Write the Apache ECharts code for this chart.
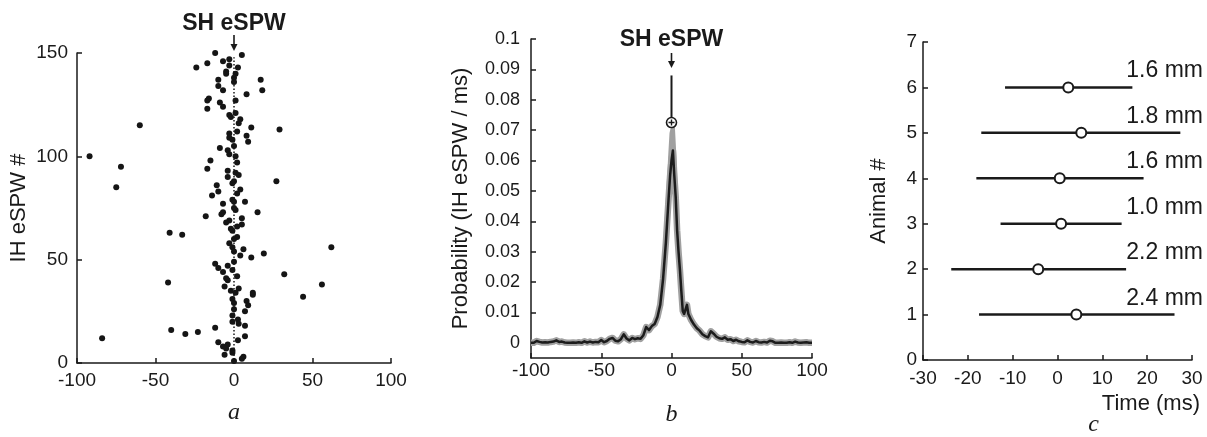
<!DOCTYPE html>
<html>
<head>
<meta charset="utf-8">
<title>SH eSPW / IH eSPW</title>
<script src="https://cdn.jsdelivr.net/npm/echarts@6/dist/echarts.min.js"></script>
<style>
  html, body { margin: 0; padding: 0; background: #fff; }
  #main { width: 1207px; height: 437px; }
</style>
</head>
<body>
<div id="main"></div>
<script type="text/javascript">
// panel a: IH eSPW times relative to SH eSPW (ms) and event index
var rasterTime = [-12, 5, -3, -17, -7, -3, 2.5, -24, -5, -5, 1, 0, 17, -10, 0, -10, -7, 18, 8, -16,
    -17, 1, -9, -7, -17, 1, -3, -2, 4, 3, -60, 11, 29, 2, -3, -3, 8, 9, -1, 0,
    -9, -4, -3, -92, 1, 2, -15, -72, -17, -4, 1, 3, -4, 27, 0, -1, -11, -10, -75, 4,
    2, -14, -1, 0, 7, -7, 0, 1, -7, 15, -8, -18, 5, -3, -5, 5, 2, -2, -1, -41,
    -33, 2, 0, -3, -1, 62, 6, 0, 19, 4, 11, 0, -12, -4, -10, -1, -7, 32, 2, -5,
    -4, -42, 56, -6, 3, -2, 1, 12, 12, 44, -1, 0, 8, 9, 0, 7, -1, -1, 2.5, 3,
    7, -12, -40, -23, -31, 7, -84, 2.5, -10, -4, -7, -5, -1, -1, -6, 6, 5, 0];
var rasterIndex = [150, 149, 147, 145, 146, 144, 143, 143, 141, 140, 140, 138, 137, 137, 136, 134, 132, 132, 130, 128,
    127, 127, 126, 124, 123, 121, 120, 119, 118, 116, 115, 114, 113, 112, 111, 109, 110, 107, 108, 105,
    104, 103, 101, 100, 100, 97, 98, 95, 94, 93, 92, 91, 90, 88, 88, 87, 86, 83, 85, 84,
    82, 81, 79, 78, 78, 77, 75, 74, 73, 73, 72, 71, 70, 69, 68, 67, 66, 65, 64, 63,
    62, 61, 60, 58, 56, 56, 55, 54, 53, 52, 51, 49, 48, 47, 46, 45, 44, 43, 42, 41,
    40, 39, 38, 37, 36, 35, 34, 34, 33, 32, 31, 29, 30, 28, 26, 25, 23, 20, 21, 19,
    18, 17, 16, 15, 14, 13, 12, 11, 10, 9, 8, 7, 6, 5, 4, 3, 2, 1];

// panel b: probability of IH eSPW (per ms) around SH eSPW
var probTime = [-100, -98, -96, -94, -92, -90, -88, -86, -84, -82, -80, -78, -76, -74, -72, -70, -68, -66, -64, -62,
    -60, -58, -56, -54, -52, -50, -48, -46, -44, -42, -40, -38, -36, -34, -32, -30, -28, -26, -24, -22,
    -20, -18, -16, -14, -12, -10, -8, -6, -4, -2, -1, 0, 1, 2, 3, 4, 5, 6, 7, 8,
    9, 10, 11, 12, 14, 16, 18, 20, 22, 24, 26, 28, 30, 32, 34, 36, 38, 40, 42, 44,
    46, 48, 50, 52, 54, 56, 58, 60, 62, 64, 66, 68, 70, 72, 74, 76, 78, 80, 82, 84,
    86, 88, 90, 92, 94, 96, 98, 100];
var probMean = [0, 0, 0.0006, 0.0003, 0.0001, 0.0002, 0.0001, 0.0003, 0.0004, 0.0008, 0.0003, 0.0004, 0.0001, 0, 0, 0.0001, 0, 0.0002, 0, 0.0005,
    0.0001, 0.0004, 0.0001, 0.0003, 0.0002, 0.0009, 0.0002, 0.0006, 0.0013, 0.0016, 0.0007, 0.0005, 0.0012, 0.0028, 0.0014, 0.0008, 0.0016, 0.0012, 0.0015, 0.0013,
    0.0025, 0.0052, 0.0042, 0.0055, 0.0062, 0.0085, 0.0125, 0.021, 0.033, 0.048, 0.055, 0.06, 0.0633, 0.055, 0.048, 0.037, 0.030, 0.024, 0.017, 0.0105,
    0.0095, 0.011, 0.0125, 0.0095, 0.0075, 0.006, 0.0048, 0.004, 0.0028, 0.0022, 0.0018, 0.0038, 0.003, 0.002, 0.0015, 0.0013, 0.0018, 0.001, 0.0012, 0.0006,
    0.001, 0.0005, 0.0003, 0.0002, 0.0008, 0.0003, 0.0001, 0.0006, 0.0002, 0.0001, 0.0003, 0.0001, 0.0007, 0.0005, 0, 0, 0.0001, 0, 0, 0.0002,
    0, 0.0004, 0.0001, 0, 0.0001, 0.0002, 0, 0];
// upper edge of the grey band near the peak
var peakBandTime = [-4, -2, -1, 0, 1, 2, 3, 4];
var peakBandUpper = [0.036, 0.052, 0.061, 0.069, 0.071, 0.062, 0.05, 0.039];
var peakLatency = 0;
var peakProb = 0.0725;
var peakLineTop = 0.088;
var probTicks = [0, 0.01, 0.02, 0.03, 0.04, 0.05, 0.06, 0.07, 0.08, 0.09, 0.1];

// panel c: per animal latency (ms)
var animals = [1, 2, 3, 4, 5, 6];
var latMean = [4.2, -4.3, 0.8, 0.5, 5.3, 2.4];
var latLow = [-17.5, -23.7, -12.7, -18.1, -17.0, -11.7];
var latHigh = [26.1, 15.3, 14.3, 19.2, 27.4, 16.7];
var distLabels = ['2.4 mm', '2.2 mm', '1.0 mm', '1.6 mm', '1.8 mm', '1.6 mm'];

var ink = '#1a1a1a';
var font = 'Liberation Sans, Arial, sans-serif';

function zip(xs, ys) {
    var out = [];
    for (var i = 0; i < xs.length; i++) out.push([xs[i], ys[i]]);
    return out;
}

function xAx(grid, min, max, interval, fs, margin) {
    return {
        gridIndex: grid, type: 'value', min: min, max: max, interval: interval,
        axisLine: {onZero: false, lineStyle: {color: ink, width: 1.5}},
        axisTick: {inside: true, length: 5, lineStyle: {color: ink, width: 1.5}},
        axisLabel: {color: ink, fontSize: fs, fontFamily: font, margin: margin},
        splitLine: {show: false}
    };
}

function yAx(grid, min, max, interval, fs, margin, name, gap) {
    return {
        gridIndex: grid, type: 'value', min: min, max: max, interval: interval,
        name: name, nameLocation: 'middle', nameGap: gap,
        nameTextStyle: {color: ink, fontSize: 22, fontFamily: font},
        axisLine: {onZero: false, lineStyle: {color: ink, width: 1.5}},
        axisTick: {inside: true, length: 5, lineStyle: {color: ink, width: 1.5}},
        axisLabel: {color: ink, fontSize: fs, fontFamily: font, margin: margin},
        splitLine: {show: false}
    };
}

var chart = echarts.init(document.getElementById('main'));

var yProb = yAx(1, -0.005, 0.1, null, 18, 11, 'Probability (IH eSPW / ms)', 59);
delete yProb.interval;
yProb.axisTick.customValues = probTicks;
yProb.axisLabel.customValues = probTicks;
yProb.axisLabel.formatter = function (v) { return String(+v.toFixed(2)); };

var option = {
    animation: false,
    backgroundColor: '#fff',
    grid: [
        {left: 77, right: 816, top: 53, bottom: 74},
        {left: 531, right: 395, top: 39, bottom: 79},
        {left: 923, right: 15, top: 42, bottom: 77}
    ],
    xAxis: [
        xAx(0, -100, 100, 50, 19, 8),
        xAx(1, -100, 100, 50, 19, 3),
        xAx(2, -30, 30, 10, 19, 9)
    ],
    yAxis: [
        yAx(0, 0, 150, 50, 19, 9, 'IH eSPW #', 47),
        yProb,
        yAx(2, 0, 7, 1, 19, 6, 'Animal #', 33)
    ],
    series: [
        {   // dotted reference line at 0
            type: 'line', xAxisIndex: 0, yAxisIndex: 0, symbol: 'none',
            data: [[0, 0], [0, 148]],
            lineStyle: {color: ink, width: 1.5, type: [1.5, 2]}
        },
        {
            type: 'scatter', xAxisIndex: 0, yAxisIndex: 0, symbolSize: 6,
            itemStyle: {color: '#151515', opacity: 1},
            data: zip(rasterTime, rasterIndex)
        },
        {   // grey SEM band
            type: 'line', xAxisIndex: 1, yAxisIndex: 1, symbol: 'none',
            data: zip(probTime, probMean),
            lineStyle: {color: '#a0a0a0', width: 6.5, join: 'round'}
        },
        {
            type: 'line', xAxisIndex: 1, yAxisIndex: 1, symbol: 'none',
            data: zip(peakBandTime, peakBandUpper),
            lineStyle: {color: '#a0a0a0', width: 4}
        },
        {
            type: 'line', xAxisIndex: 1, yAxisIndex: 1, symbol: 'none',
            data: zip(probTime, probMean),
            lineStyle: {color: '#1c1c1c', width: 2.5, join: 'round'}
        },
        {
            type: 'line', xAxisIndex: 1, yAxisIndex: 1, symbol: 'none',
            data: [[peakLatency, peakProb + 0.0012], [peakLatency, peakLineTop]],
            lineStyle: {color: ink, width: 2}
        },
        {
            type: 'scatter', xAxisIndex: 1, yAxisIndex: 1, symbol: 'circle', symbolSize: 10,
            itemStyle: {color: '#fff', borderColor: ink, borderWidth: 1.6, opacity: 1},
            data: [[peakLatency, peakProb]], z: 5
        },
        {
            type: 'scatter', xAxisIndex: 1, yAxisIndex: 1, symbol: 'path://M5,0L5,10M0,5L10,5', symbolSize: 6,
            itemStyle: {color: 'transparent', borderColor: ink, borderWidth: 1.4, opacity: 1},
            data: [[peakLatency, peakProb]], z: 6
        },
        {   // latency ranges
            type: 'custom', xAxisIndex: 2, yAxisIndex: 2,
            data: animals.map(function (a, i) { return [latLow[i], latHigh[i], a]; }),
            renderItem: function (params, api) {
                var p0 = api.coord([api.value(0), api.value(2)]);
                var p1 = api.coord([api.value(1), api.value(2)]);
                return {
                    type: 'line',
                    shape: {x1: p0[0], y1: p0[1], x2: p1[0], y2: p1[1]},
                    style: {stroke: ink, lineWidth: 2.5}
                };
            }
        },
        {
            type: 'scatter', xAxisIndex: 2, yAxisIndex: 2, symbol: 'circle', symbolSize: 10,
            itemStyle: {color: '#fff', borderColor: ink, borderWidth: 2, opacity: 1},
            data: zip(latMean, animals), z: 5
        },
        {   // distance labels
            type: 'scatter', xAxisIndex: 2, yAxisIndex: 2, symbolSize: 0, clip: false,
            itemStyle: {opacity: 1},
            data: animals.map(function (a, i) { return {value: [30, a + 0.36], name: distLabels[i]}; }),
            label: {
                show: true, position: 'left', distance: 0, offset: [11, 0],
                formatter: '{b}', color: ink, fontSize: 23, fontFamily: font
            }
        }
    ]
};
chart.setOption(option);

// annotations placed from axis positions
function arrow(x, y0, y1) {
    return {
        type: 'group',
        children: [
            {type: 'line', shape: {x1: x, y1: y0, x2: x, y2: y1 - 5}, style: {stroke: ink, lineWidth: 1.6}},
            {type: 'polygon', shape: {points: [[x - 3.5, y1 - 7], [x + 3.5, y1 - 7], [x, y1]]}, style: {fill: ink}}
        ]
    };
}

var aTop = chart.convertToPixel({gridIndex: 0}, [0, 150]);
var bTop = chart.convertToPixel({gridIndex: 1}, [0, 0.1]);
var aBot = chart.convertToPixel({gridIndex: 0}, [0, 0]);
var cEnd = chart.convertToPixel({gridIndex: 2}, [30, 0]);
var cMid = chart.convertToPixel({gridIndex: 2}, [0, 0]);

function label(text, x, y, fontSpec, align) {
    return {
        type: 'text', x: x, y: y,
        style: {text: text, fill: ink, font: fontSpec, align: align || 'center', verticalAlign: 'middle'}
    };
}
var titleFont = 'bold 23px ' + font;
var letterFont = 'italic 24px Liberation Serif, Times New Roman, serif';

chart.setOption({
    graphic: [
        label('SH eSPW', aTop[0], aTop[1] - 29, titleFont),
        arrow(aTop[0], aTop[1] - 18, aTop[1] - 2),
        label('SH eSPW', bTop[0], bTop[1] + 1, titleFont),
        arrow(bTop[0], bTop[1] + 14, bTop[1] + 29),
        label('Time (ms)', cEnd[0] + 8, cEnd[1] + 44, '22px ' + font, 'right'),
        label('a', aTop[0], aBot[1] + 50, letterFont),
        label('b', bTop[0], aBot[1] + 52, letterFont),
        label('c', cMid[0] + 36, aBot[1] + 62, letterFont)
    ]
});
</script>
</body>
</html>
